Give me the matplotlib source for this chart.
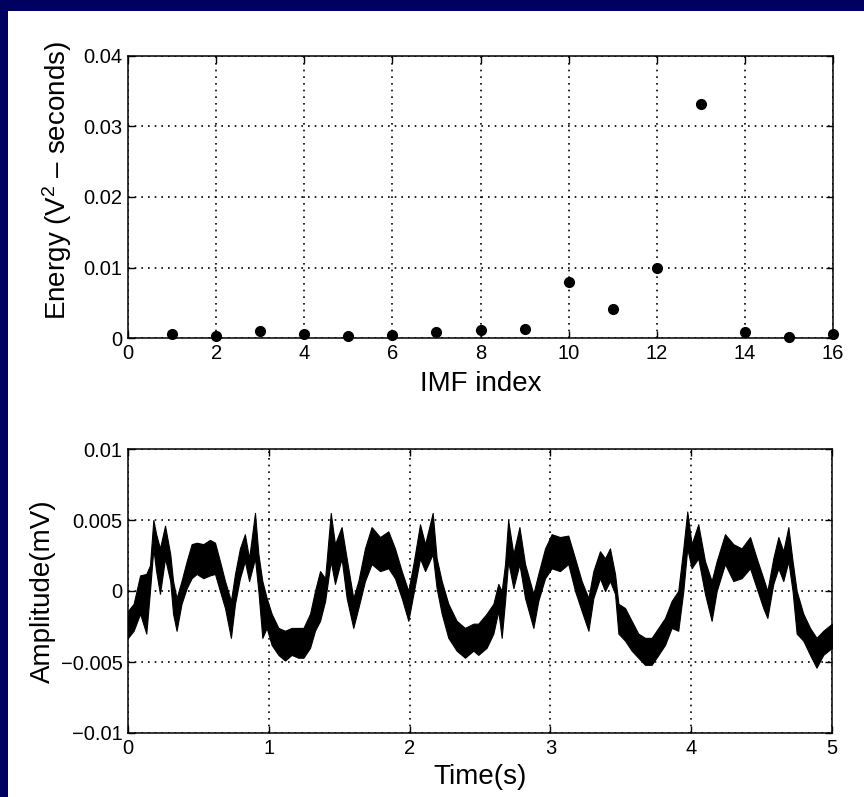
import matplotlib as mpl
mpl.use('Agg')
import matplotlib.pyplot as plt
from matplotlib.patches import Rectangle

plt.rcParams['font.family'] = ['Liberation Sans', 'DejaVu Sans']
plt.rcParams['mathtext.fontset'] = 'custom'
plt.rcParams['mathtext.rm'] = 'Liberation Sans'
plt.rcParams['mathtext.it'] = 'Liberation Sans:italic'

# Energy of each intrinsic mode function
imfIndex = list(range(1, 17))
imfEnergy = [0.0005, 0.0003, 0.0010, 0.0006, 0.0003, 0.0004, 0.0008, 0.0011,
             0.0013, 0.0079, 0.0041, 0.0100, 0.0332, 0.0009, 0.0001, 0.0006]

# Recorded trace, kept as upper/lower envelope of the noisy signal
sigTime = [0.0, 0.04, 0.086, 0.13, 0.156, 0.18, 0.2, 0.227, 0.263, 0.3,
           0.32, 0.345, 0.38, 0.417, 0.452, 0.488, 0.535, 0.582, 0.618, 0.653,
           0.689, 0.731, 0.76, 0.795, 0.83, 0.86, 0.902, 0.926, 0.954, 0.985,
           1.02, 1.068, 1.115, 1.162, 1.21,
           1.246, 1.293, 1.328, 1.364, 1.4, 1.44, 1.47, 1.517, 1.553, 1.6,
           1.636, 1.683, 1.73, 1.79, 1.849, 1.896, 1.944, 1.991, 2.027, 2.074,
           2.11, 2.164, 2.192, 2.228, 2.275, 2.334, 2.393, 2.453,
           2.488, 2.547, 2.595, 2.63, 2.654, 2.678, 2.7, 2.737, 2.78, 2.82,
           2.879, 2.914, 2.962, 3.009, 3.068, 3.127, 3.175, 3.222, 3.27, 3.305,
           3.352, 3.388, 3.423, 3.459, 3.483, 3.53, 3.577, 3.624, 3.672,
           3.719, 3.767, 3.814, 3.861, 3.908, 3.944, 3.972, 4.003, 4.05, 4.098,
           4.145, 4.181, 4.24, 4.299, 4.358, 4.418, 4.465, 4.512, 4.541, 4.583,
           4.619, 4.654, 4.69, 4.72, 4.749, 4.796, 4.844, 4.89, 4.938, 5.0]
sigHigh = [-0.0014, -0.0009, 0.0011, 0.0012, 0.0018, 0.0050, 0.0040, 0.0030, 0.0046, 0.0026,
           0.0007, -0.0005, 0.0007, 0.0021, 0.0033, 0.0034, 0.0033, 0.0036, 0.0034, 0.0021,
           0.0007, -0.0007, 0.0012, 0.0030, 0.0040, 0.0023, 0.0055, 0.0026, 0.0007, -0.0005,
           -0.0016, -0.0026, -0.0028, -0.0026, -0.0026,
           -0.0026, -0.0016, 0.0000, 0.0014, 0.0009, 0.0055, 0.0033, 0.0045, 0.0023, -0.0005,
           0.0007, 0.0030, 0.0045, 0.0038, 0.0042, 0.0030, 0.0014, 0.0000, 0.0019, 0.0047,
           0.0033, 0.0055, 0.0023, 0.0007, -0.0009, -0.0021, -0.0026, -0.0023,
           -0.0023, -0.0016, -0.0009, 0.0005, 0.0000, 0.0019, 0.0050, 0.0026, 0.0045, 0.0019,
           -0.0002, 0.0012, 0.0030, 0.0040, 0.0038, 0.0039, 0.0023, 0.0007, -0.0005, 0.0014,
           0.0028, 0.0023, 0.0030, 0.0012, -0.0009, -0.0012, -0.0021, -0.0030, -0.0033,
           -0.0033, -0.0026, -0.0019, -0.0007, 0.0000, 0.0030, 0.0056, 0.0033, 0.0047, 0.0021,
           0.0007, 0.0021, 0.0040, 0.0033, 0.0030, 0.0038, 0.0023, 0.0009, 0.0000, 0.0023,
           0.0038, 0.0028, 0.0045, 0.0021, 0.0000, -0.0016, -0.0026, -0.0033, -0.0028, -0.0023]
sigLow = [-0.0033, -0.0028, -0.0016, -0.0030, 0.0000, 0.0030, 0.0014, -0.0002, 0.0023, 0.0007,
          -0.0016, -0.0028, -0.0009, 0.0002, 0.0009, 0.0012, 0.0009, 0.0011, 0.0012, 0.0000,
          -0.0012, -0.0033, -0.0009, 0.0009, 0.0021, 0.0007, 0.0023, 0.0000, -0.0033, -0.0026,
          -0.0038, -0.0045, -0.0049, -0.0045, -0.0047,
          -0.0047, -0.0040, -0.0028, -0.0021, -0.0007, 0.0021, 0.0005, 0.0023, -0.0005, -0.0026,
          -0.0012, 0.0007, 0.0019, 0.0014, 0.0016, 0.0009, -0.0005, -0.0021, -0.0002, 0.0023,
          0.0014, 0.0026, 0.0002, -0.0016, -0.0033, -0.0042, -0.0047, -0.0042,
          -0.0045, -0.0040, -0.0030, -0.0014, -0.0033, -0.0007, 0.0021, 0.0002, 0.0019, -0.0005,
          -0.0026, -0.0007, 0.0009, 0.0016, 0.0014, 0.0019, 0.0000, -0.0014, -0.0028, -0.0005,
          0.0009, 0.0000, 0.0007, -0.0002, -0.0030, -0.0035, -0.0042, -0.0047, -0.0052,
          -0.0052, -0.0045, -0.0038, -0.0026, -0.0028, 0.0000, 0.0030, 0.0016, 0.0023, -0.0002,
          -0.0021, 0.0000, 0.0019, 0.0007, 0.0009, 0.0016, 0.0002, -0.0012, -0.0019, 0.0005,
          0.0016, 0.0007, 0.0021, 0.0000, -0.0030, -0.0035, -0.0045, -0.0054, -0.0045, -0.0040]

energyTicks = [0, 0.01, 0.02, 0.03, 0.04]
energyTickLabels = ['0', '0.01', '0.02', '0.03', '0.04']
ampTicks = [-0.01, -0.005, 0, 0.005, 0.01]
ampTickLabels = ['\u22120.01', '\u22120.005', '0', '0.005', '0.01']

navy = '#000060'
W, H = 864, 797

fig = plt.figure(figsize=(W / 100, H / 100), dpi=100, facecolor='white')
#Navy frame along the left and top edges of the slide:
fig.patches.append(Rectangle((0, 0), 8 / W, 1, transform=fig.transFigure,
                             facecolor=navy, edgecolor='none', zorder=-1))
fig.patches.append(Rectangle((0, 1 - 11 / H), 1, 11 / H, transform=fig.transFigure,
                             facecolor=navy, edgecolor='none', zorder=-1))

def styleAxes(ax):
    ax.set_facecolor('white')
    for s in ax.spines.values():
        s.set_linewidth(1.1)
    ax.tick_params(direction='in', length=5, width=1.0, top=True, right=True,
                   labelsize=14.5, pad=4)
    ax.grid(True, color='black', linestyle=(0, (1, 3)), linewidth=1.2)
    ax.set_axisbelow(False)

ax1 = fig.add_axes([128 / W, 1 - 338 / H, 705 / W, 282 / H])
ax1.plot(imfIndex, imfEnergy, 'o', color='black', markersize=7, clip_on=False, zorder=5)
ax1.set_xlim(0, 16)
ax1.set_ylim(0, 0.04)
ax1.set_xticks(range(0, 17, 2))
ax1.set_yticks(energyTicks)
ax1.set_yticklabels(energyTickLabels)
styleAxes(ax1)
ax1.set_xlabel('IMF index', fontsize=20, labelpad=6)
ax1.set_ylabel('Energy (V$^{\\mathrm{2}}$ \u2013 seconds)', fontsize=20)
ax1.yaxis.set_label_coords(-0.077, 0.56)

ax2 = fig.add_axes([128 / W, 1 - 733 / H, 704 / W, 284 / H])
ax2.fill_between(sigTime, sigLow, sigHigh, color='black', linewidth=0.8,
                 edgecolor='black', zorder=4)
ax2.set_xlim(0, 5)
ax2.set_ylim(-0.01, 0.01)
ax2.set_xticks(range(0, 6))
ax2.set_yticks(ampTicks)
ax2.set_yticklabels(ampTickLabels)
styleAxes(ax2)
ax2.set_xlabel('Time(s)', fontsize=20, labelpad=5)
ax2.set_ylabel('Amplitude(mV)', fontsize=20)
ax2.yaxis.set_label_coords(-0.102, 0.5)

plt.savefig('out.png', dpi=100, facecolor='white')
